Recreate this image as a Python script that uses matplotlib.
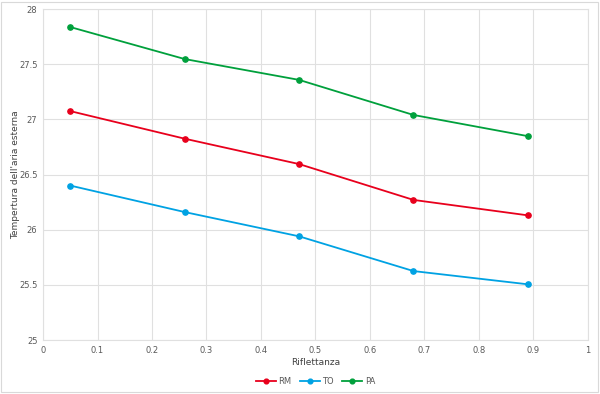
import numpy as np
import matplotlib.pyplot as plt

# Reflectance values and outdoor air temperature per city
riflettanza = [0.05, 0.26, 0.47, 0.68, 0.89]
rm = [27.075, 26.825, 26.595, 26.27, 26.13]
to = [26.40, 26.16, 25.94, 25.625, 25.505]
pa = [27.837, 27.547, 27.358, 27.04, 26.848]

series = [("RM", rm, "#E8001C"), ("TO", to, "#00A2E3"), ("PA", pa, "#00A03C")]

fig = plt.figure(figsize=(6.0, 3.94), dpi=100)
ax = fig.add_axes([0.0717, 0.137, 0.908, 0.840])

for name, vals, col in series:
    ax.plot(riflettanza, vals, color=col, lw=1.3, marker="o", ms=3.8, label=name)

ax.set_xlim(0, 1)
ax.set_ylim(25, 28)
ax.set_xticks(np.arange(0, 1.01, 0.1))
ax.set_xticklabels(["0", "0.1", "0.2", "0.3", "0.4", "0.5", "0.6", "0.7", "0.8", "0.9", "1"])
ax.set_yticks([25, 25.5, 26, 26.5, 27, 27.5, 28])
ax.set_yticklabels(["25", "25.5", "26", "26.5", "27", "27.5", "28"])
ax.grid(True, color="#e0e0e0", lw=0.8)
ax.set_axisbelow(True)
for s in ax.spines.values():
    s.set_color("#e0e0e0")
ax.tick_params(length=0, labelsize=6, colors="#595959", pad=4)

ax.set_xlabel("Riflettanza", fontsize=6.5, color="#404040")
ax.set_ylabel("Tempertura dell'aria esterna", fontsize=6.5, color="#404040")
ax.xaxis.set_label_coords(0.5, -0.055)
ax.yaxis.set_label_coords(-0.042, 0.5)

ax.legend(loc="center", bbox_to_anchor=(0.5, -0.124), ncol=3, frameon=False,
          fontsize=6, labelcolor="#595959", handlelength=2.4, handletextpad=0.3,
          columnspacing=1.0, markerscale=0.9)

# light outer border like the spreadsheet chart frame
fig.patches.append(plt.Rectangle((0.002, 0.004), 0.994, 0.992, transform=fig.transFigure,
                                 fill=False, edgecolor="#d9d9d9", lw=0.8))

fig.savefig("out.png", dpi=100)
